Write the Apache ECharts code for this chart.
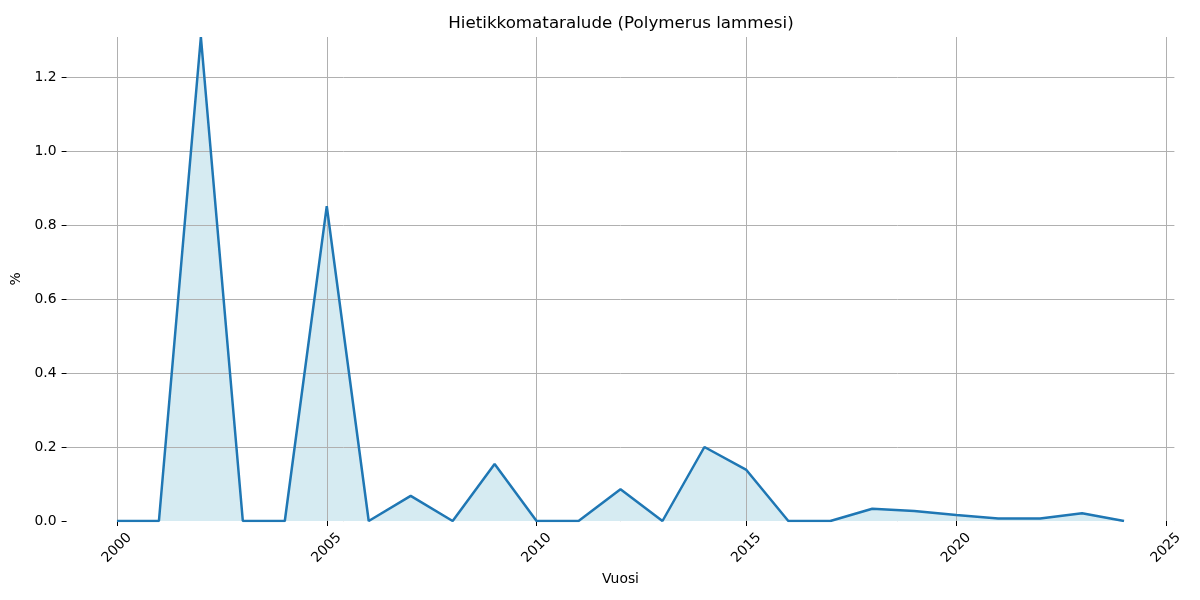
<!DOCTYPE html>
<html>
<head>
<meta charset="utf-8">
<script src="https://cdn.jsdelivr.net/npm/echarts@6/dist/echarts.min.js"></script>
<style>
  html, body { margin: 0; padding: 0; background: #fff; }
  #chart { width: 1200px; height: 600px; }
</style>
</head>
<body>
<div id="chart"></div>
<script>
// vuodet ja osuudet (%)
const years = [2000, 2001, 2002, 2003, 2004, 2005, 2006, 2007, 2008, 2009, 2010, 2011, 2012,
  2013, 2014, 2015, 2016, 2017, 2018, 2019, 2020, 2021, 2022, 2023, 2024]
const values = [0, 0, 1.308, 0, 0, 0.851, 0, 0.068, 0, 0.154, 0, 0, 0.086,
  0, 0.2, 0.138, 0, 0, 0.033, 0.027, 0.016, 0.007, 0.007, 0.021, 0]
const xTicks = [2000, 2005, 2010, 2015, 2020, 2025]
const yTicks = [0, 0.2, 0.4, 0.6, 0.8, 1.0, 1.2]

const points = years.map((y, i) => [y, values[i]])
const chart = echarts.init(document.getElementById('chart'))

const font = 'DejaVu Sans'
const option = {
  animation: false,
  title: {
    text: 'Hietikkomataralude (Polymerus lammesi)',
    left: 616,
    textAlign: 'center',
    top: 10,
    textStyle: { fontFamily: font, fontSize: 16.7, fontWeight: 'normal', color: '#000' }
  },
  grid: { left: 66.6, right: 25.6, top: 37, bottom: 79 },
  xAxis: {
    type: 'value',
    min: 1998.8,
    max: 2025.2,
    z: 3,
    name: 'Vuosi',
    nameLocation: 'middle',
    nameGap: 50,
    nameTextStyle: { fontFamily: font, fontSize: 13.9, color: '#000' },
    axisLine: { show: true, lineStyle: { color: '#fff', width: 1 } },
    axisTick: { show: true, customValues: xTicks, length: 5, lineStyle: { color: '#000' } },
    axisLabel: {
      customValues: xTicks,
      rotate: 45,
      align: 'center',
      verticalAlign: 'middle',
      margin: 27,
      fontFamily: font,
      fontSize: 13.9,
      color: '#000',
      formatter: v => String(v)
    },
    splitLine: { show: true, lineStyle: { color: '#b0b0b0', width: 1 } }
  },
  yAxis: {
    type: 'value',
    min: 0,
    max: 1.308,
    z: 3,
    name: '%',
    nameLocation: 'middle',
    nameGap: 40,
    nameTextStyle: { fontFamily: font, fontSize: 13.9, color: '#000' },
    axisLine: { show: false },
    axisTick: { show: true, customValues: yTicks, length: 5, lineStyle: { color: '#000' } },
    axisLabel: {
      customValues: yTicks,
      margin: 10,
      fontFamily: font,
      fontSize: 13.9,
      color: '#000',
      formatter: v => v.toFixed(1)
    },
    splitLine: { show: true, lineStyle: { color: '#b0b0b0', width: 1 } }
  },
  series: [
    {
      type: 'line',
      data: points,
      z: 1,
      symbol: 'none',
      lineStyle: { width: 0 },
      areaStyle: { color: '#add8e6', opacity: 0.5 },
      silent: true
    },
    {
      type: 'line',
      data: points,
      z: 5,
      symbol: 'none',
      lineStyle: { color: '#1f77b4', width: 2.5 }
    }
  ]
}
chart.setOption(option)
</script>
</body>
</html>
